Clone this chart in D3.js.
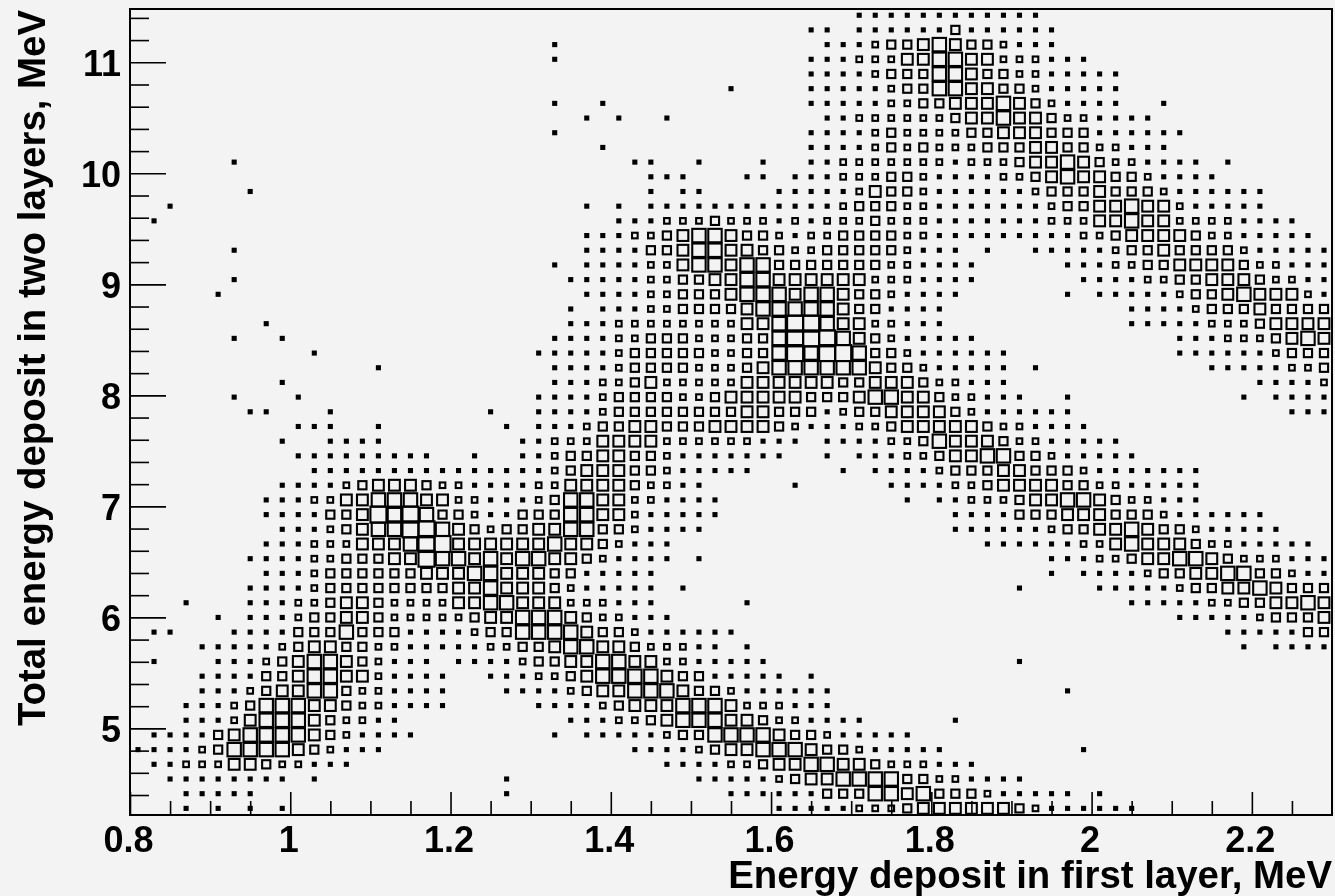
<!DOCTYPE html>
<html>
<head>
<meta charset="utf-8">
<script src="https://cdn.jsdelivr.net/npm/d3@7"></script>
<style>
  html, body { margin: 0; padding: 0; background: #f3f3f3; }
  svg { display: block; filter: blur(0.6px); }
  text { font-family: "Liberation Sans", Arial, sans-serif; font-weight: bold; fill: #000; }
</style>
</head>
<body>
<svg id="chart" width="1335" height="896"></svg>
<script>
// Titles and axis ticks
const xTitle = "Energy deposit in first layer, MeV";
const yTitle = "Total energy deposit in two layers, MeV";
const xMajorTicks = [0.8, 1, 1.2, 1.4, 1.6, 1.8, 2, 2.2];
const xMinorTicks = [0.85, 0.9, 0.95, 1.05, 1.1, 1.15, 1.25, 1.3, 1.35, 1.45, 1.5, 1.55, 1.65, 1.7, 1.75, 1.85, 1.9, 1.95, 2.05, 2.1, 2.15, 2.25];
const yMajorTicks = [5, 6, 7, 8, 9, 10, 11];
const yMinorTicks = [4.4, 4.6, 4.8, 5.2, 5.4, 5.6, 5.8, 6.2, 6.4, 6.6, 6.8, 7.2, 7.4, 7.6, 7.8, 8.2, 8.4, 8.6, 8.8, 9.2, 9.4, 9.6, 9.8, 10.2, 10.4, 10.6, 10.8, 11.2, 11.4];

// Histogram binning (MeV)
const xDomain = [0.8, 2.3];
const yDomain = [4.22, 11.48];
const xBinStart = 0.8;
const xBinWidth = 0.02;
const yBinTop = 11.49;
const yBinHeight = 0.1323;

// Box-size class of each filled cell (0 = empty).
// One entry per y bin from the top; each is a list of [first x bin, classes].
const cellRows = [
 [[45,"111111111111"]],
 [[42,"11"],[45,"111111 3 111111"]],
 [[26,"1"],[43,"111 2 33 4 5 4 33 2 111"]],
 [[26,"1"],[42,"111 222 44 55 44 222 111"]],
 [[42,"1111 2 333 55 4 33 22 11111"]],
 [[37,"1"],[42,"11111 2 33 55 44 33 2 11111"]],
 [[26,"1"],[29,"1"],[42,"11111 22 33 444 5 4 3 2 1111"],[64,"1"]],
 [[28,"1"],[30,"1"],[33,"1"],[43,"11 222222 3 44 5 44 3 22 1111"]],
 [[26,"1"],[42,"1111 2 3 2222 33 444 333 111111"]],
 [[29,"1"],[42,"1111 2 3 2 3 222 333 44 33 22 111"]],
 [[6,"1"],[31,"11"],[35,"1"],[39,"1"],[42,"11 2222222 1 222 3 44 5 4 3 22 1111"],[68,"1"]],
 [[32,"111"],[38,"11"],[41,"111 222 33 2 1111 22 3 4 5 44 33 2 1111"]],
 [[7,"1"],[32,"1"],[34,"11"],[40,"11111 2 4 33 2 111111 2 333 4 333 2 111111"]],
 [[2,"1"],[28,"1"],[30,"1"],[32,"111111111111 2333 22 1111111 2 33 44 5 44 2 11111"]],
 [[1,"1"],[30,"111 222 3 222 1 2 1 222 3 222 1111111 222 44 5 44 2222 1111"]],
 [[28,"111 22 3 4 55 4 33 2 1 22 3333 22 111111111 22 3 4444 3 22 11111"]],
 [[6,"1"],[28,"1111 33 4 55 44 33 22 33333 2 111 0 1 00 11111 2 33 4 3333 2 11111"]],
 [[26,"1"],[28,"1111 22 4 55 4 55 3333333 22 1111 00000 111 22 33 4444 3 22 111"]],
 [[6,"1"],[27,"11111 22 33 44 55 444444 222 1111 000000 1111 22 33 444 3 22 11"]],
 [[5,"1"],[28,"1111 22 333 4 555 4 55 4 33 2 1111 000000 1 0 11111 2 33 4 5 444 2 1"]],
 [[27,"1"],[29,"111 22 3333 4 55555 4 33 1111"],[62,"1111 2 333 4 3333"]],
 [[8,"1"],[27,"111 22222222 44 5 66 5 44 22 111"],[62,"11111 222 3 4444"]],
 [[6,"1"],[9,"1"],[26,"1111 22 333 222 33 5 666 5 4 3 2 11111"],[65,"111 222 3 4 5 4"]],
 [[11,"1"],[25,"11111 2 33333 22 33 5 6 5 66 5 33 2 111111"],[65,"111111 2 333"]],
 [[15,"1"],[26,"1111 2 3333 222 3 4 555555 4 33 2 11111 0 1"],[67,"11111 22 3"]],
 [[9,"1"],[26,"111 22 3 4 22222 444444 33 444 3 22 111"],[70,"1111 2"]],
 [[6,"1"],[10,"1"],[25,"1111 2 3333 22 3 44444 333 4 55 44 3 22 111 00 1"],[69,"1"],[71,"1111"]],
 [[7,"11"],[12,"1"],[22,"1"],[25,"1111 2 33333333 44 333 1 2 33 4444 3 2 111111"],[72,"111"]],
 [[10,"111"],[15,"1"],[23,"1"],[25,"111 2 33 44 333 4444 3 2 111 22 3 44444 3 22 1111"]],
 [[9,"1"],[12,"1111"],[24,"11 222 4444 222222 111 0 1111 22 3 5 444 3 22 11111"]],
 [[10,"111111111"],[21,"1"],[24,"11 2 33 44 33 2 1111111 00 1 0 111 22 3 44 55 33 2 11111"]],
 [[11,"111111111111111 2 3 444 33 2 11111 00000 1 0 1111 2 333 44 333 2 1111111"]],
 [[9,"1111 2 3 444 3 22 1111 22 4444 3 22 11"],[41,"1"],[47,"1111 22 3 4444 33 22 11111"]],
 [[8,"111 22 44 555 44 22 111 2 3 55 44 22 1111"],[48,"1"],[50,"11 222 3 44 55 4 3 22 111"]],
 [[8,"1111 33 4 6 5 6 5 33 2 11 333 55 44 2 11111"],[51,"1111 333 444 333 2 111111"]],
 [[9,"111 2 3 4 55 66 5 4 3 2 33 44 55 33 2 1111"],[51,"111111 2 33 44 5 4 33 2 11111"]],
 [[8,"111 222 444 5 66 444444 5 44 3 2 111"],[53,"111111 22 4 5 444 3 22 11111"]],
 [[7,"1111 22 333 44 6 55 4 5 4 55 44 3 2 1111 0 1"],[57,"111 22 3 44 55 4 3 222 111"]],
 [[8,"111 2 333333 444 55 444 33 11111"],[57,"1"],[59,"1111 2 33 44 55 33 2 11"]],
 [[7,"1111 2 33333333 44 5 444 3 2 11111 0 1"],[55,"1"],[60,"11111 2 33 44 5 4 333"]],
 [[3,"1"],[7,"111 22 3 44 3 2222 44 55 444 222 111"],[38,"1"],[62,"11111 22 33 44 5 4"]],
 [[5,"1"],[7,"111 2 33 44 3 22222 3 44 555 4 3 22 111"],[65,"11111 2 333 4"]],
 [[1,"11"],[6,"1111 333 5 333 1111 2 33 5555 4 33 2 111111"],[68,"11111 33"]],
 [[4,"11111 2 3 44 33 22 11111 22 33 4 55 44 3 222 11 0 1"],[69,"1"],[71,"1111"]],
 [[1,"1"],[5,"111 2 3 4 55 4 3 2 111 0 1111 2 33 44 55 44 22 11111"],[55,"1"]],
 [[4,"1111 33 4 55 44 2 1111 00 111 22 3 4 5555 4 33 11111 0 1"]],
 [[4,"111 2 3 44 55 3 22 1111 000 1111 2 3 44 555 4 33 2 111111"],[58,"1"]],
 [[3,"111 2 3 555 44 3 22 1111"],[25,"1111 2 3 444 555 4 222 111"]],
 [[3,"111 2 4 555 4 3 22 11"],[27,"111 22 3 4 555 44 3 22 1111"],[51,"1"]],
 [[1,"1111 3 4 5555 4 3 2 1111"],[26,"1"],[28,"11111 2 33 5555 4 33 2 11111"]],
 [[0,"1111 2 3 5555 4 3 2 111"],[31,"1111 2 3 44 555 4 33 2 11111"],[59,"1"]],
 [[1,"11 222 44 3 22 111"],[33,"1111 22 3 44 55 44 3 222 111"]],
 [[2,"11111111"],[11,"1"],[23,"1"],[35,"11111 2 3 44 5555 33 22 1111"]],
 [[3,"11111"],[23,"1"],[37,"111111 333 55 4 5 333 2 11111 0 1"]],
 [[3,"1"],[5,"1"],[7,"1"],[9,"1"],[40,"11111 222 3 444444 3 2 111111"]]
];

// Expand rows into cells
const cells = [];
cellRows.forEach((segments, row) => {
  segments.forEach(([start, text]) => {
    Array.from(text.replace(/ /g, "")).forEach((ch, k) => {
      const level = +ch;
      if (level > 0) cells.push({ col: start + k, row, level });
    });
  });
});

const svg = d3.select("#chart");
const plotLeft = 130, plotRight = 1332, plotTop = 9, plotBottom = 815;

const x = d3.scaleLinear().domain(xDomain).range([plotLeft, plotRight]);
const y = d3.scaleLinear().domain(yDomain).range([plotBottom, plotTop]);
const boxSize = d3.scaleLinear().domain([1, 6]).range([3, 16]);

const xCentre = d => x(xBinStart + (d.col + 0.5) * xBinWidth);
const yCentre = d => y(yBinTop - (d.row + 0.5) * yBinHeight);

// Boxes
svg.append("g").selectAll("rect").data(cells).join("rect")
  .attr("x", d => xCentre(d) - boxSize(d.level) / 2)
  .attr("y", d => yCentre(d) - boxSize(d.level) / 2)
  .attr("width", d => boxSize(d.level))
  .attr("height", d => boxSize(d.level))
  .attr("fill", d => d.level === 1 ? "#000" : "none")
  .attr("stroke", "#000")
  .attr("stroke-width", 2.1);

// Frame
svg.append("rect")
  .attr("x", plotLeft).attr("y", plotTop)
  .attr("width", plotRight - plotLeft).attr("height", plotBottom - plotTop)
  .attr("fill", "none").attr("stroke", "#000").attr("stroke-width", 2);

function styleAxis(g) {
  g.select(".domain").remove();
  g.selectAll(".tick line").attr("stroke", "#000").attr("stroke-width", 1.6);
}

// Minor ticks
svg.append("g").attr("transform", `translate(0,${plotBottom})`)
  .call(d3.axisBottom(x).tickValues(xMinorTicks).tickSize(-14).tickFormat(""))
  .call(styleAxis);
svg.append("g").attr("transform", `translate(${plotLeft},0)`)
  .call(d3.axisLeft(y).tickValues(yMinorTicks).tickSize(-19).tickFormat(""))
  .call(styleAxis);

// Major ticks and labels
const xAxisG = svg.append("g").attr("transform", `translate(0,${plotBottom})`)
  .call(d3.axisBottom(x).tickValues(xMajorTicks).tickSize(-23).tickFormat(d3.format("")))
  .call(styleAxis);
xAxisG.selectAll("text")
  .attr("x", -2).attr("y", 37).attr("dy", null)
  .attr("font-size", 36).attr("font-family", null);

const yAxisG = svg.append("g").attr("transform", `translate(${plotLeft},0)`)
  .call(d3.axisLeft(y).tickValues(yMajorTicks).tickSize(-36).tickFormat(d3.format("")))
  .call(styleAxis);
yAxisG.selectAll("text")
  .attr("x", -9).attr("dy", 13)
  .attr("font-size", 36).attr("font-family", null);

// Titles
svg.append("text")
  .attr("x", 1332).attr("y", 888)
  .attr("text-anchor", "end")
  .attr("font-size", 38.4)
  .text(xTitle);
svg.append("text")
  .attr("transform", "translate(45,10) rotate(-90)")
  .attr("text-anchor", "end")
  .attr("font-size", 38.4)
  .text(yTitle);
</script>
</body>
</html>
